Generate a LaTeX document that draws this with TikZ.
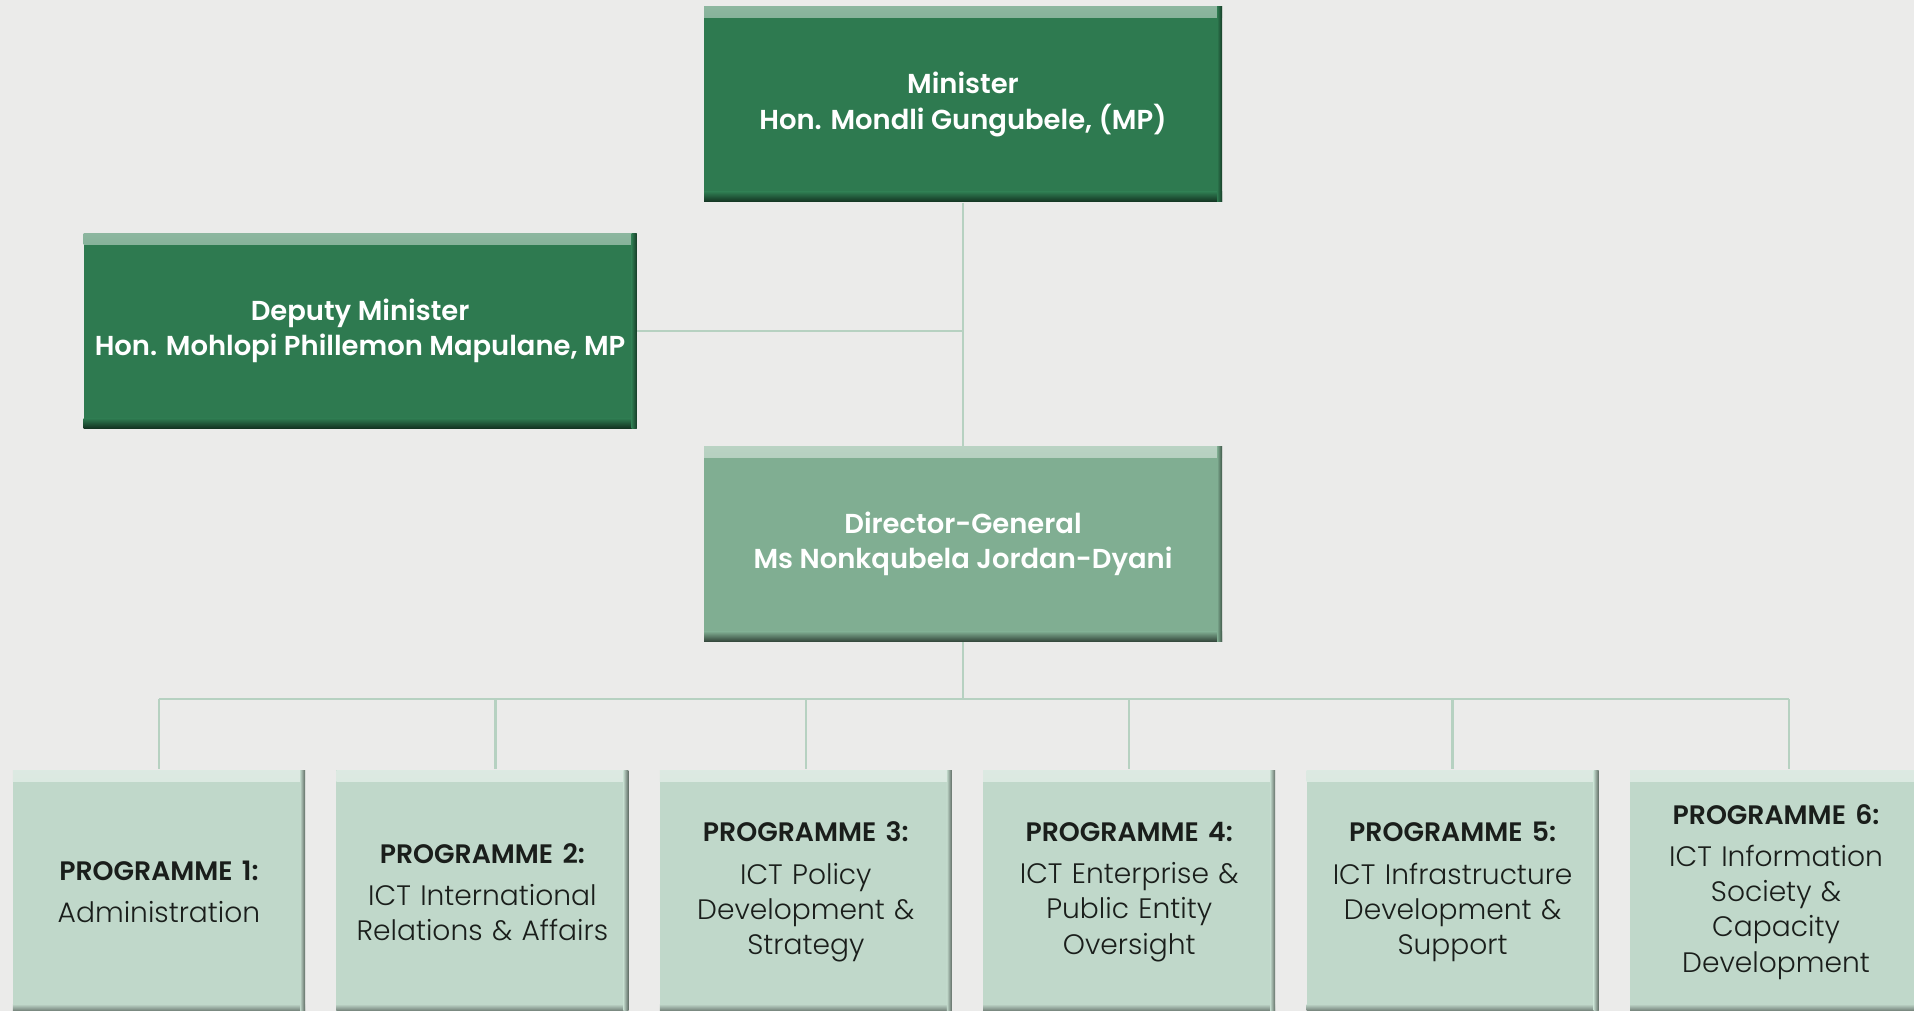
\documentclass[tikz,border=0pt]{standalone}
\usepackage{fontspec}
\setmainfont{Poppins}[BoldFont={Poppins SemiBold}]
\newfontfamily\lightfont{Poppins Light}
\usetikzlibrary{positioning}

\definecolor{paper}{HTML}{EBEBEA}
\definecolor{darkgreen}{HTML}{2E7A50}
\definecolor{midgreen}{HTML}{80AE92}
\definecolor{palegreen}{HTML}{C0D8CA}
\definecolor{linkgreen}{HTML}{B6D1C1}
\definecolor{progtext}{HTML}{1A1E1B}

\newcommand{\progtitle}[1]{{\bfseries\rmfamily\fontsize{7.6}{10}\selectfont #1}\\[2pt]}

\tikzset{
  bevel/.style={path picture={
      \shade[top color=#1!55!white, bottom color=#1]
        (path picture bounding box.north west) rectangle ([yshift=-0.11cm]path picture bounding box.north east);
      \shade[top color=#1, bottom color=#1!40!black]
        ([yshift=0.10cm]path picture bounding box.south west) rectangle (path picture bounding box.south east);
      \shade[left color=#1, right color=#1!50!black]
        ([xshift=-0.05cm]path picture bounding box.south east) rectangle (path picture bounding box.north east);
    }},
  office/.style={rectangle, fill=#1, bevel=#1, text=white, inner sep=0pt,
    minimum width=5.18cm, minimum height=1.95cm, align=center,
    font=\fontsize{7.8}{10}\selectfont\bfseries},
  prog/.style={rectangle, fill=palegreen, bevel=palegreen, text=progtext, inner sep=0pt,
    minimum width=2.92cm, minimum height=2.44cm, text width=2.8cm, align=center,
    font=\fontsize{8}{10}\selectfont\lightfont},
  link/.style={draw=linkgreen, line width=0.7pt},
}

\begin{document}
\begin{tikzpicture}
  \fill[paper] (0,0) rectangle (19.14,-10.11);
  \useasboundingbox (0,0) rectangle (19.14,-10.11);

  \node[office=darkgreen] (minister) at (9.63,-1.045) {Minister\\Hon. Mondli Gungubele, (MP)};
  \node[office=darkgreen,minimum width=5.53cm] (deputy) [below left=0.30cm and 0.66cm of minister]
        {Deputy Minister\\Hon. Mohlopi Phillemon Mapulane, MP};
  \node[office=midgreen] (dg) [below=2.43cm of minister] {Director-General\\Ms Nonkqubela Jordan-Dyani};

  \node[prog] (p1) at (1.59,-8.92) {\progtitle{PROGRAMME 1:}Administration};
  \node[prog] (p2) [right=0.30cm of p1] {\progtitle{PROGRAMME 2:}ICT International\\Relations \& Affairs};
  \node[prog] (p3) [right=0.30cm of p2] {\progtitle{PROGRAMME 3:}ICT Policy\\Development \&\\Strategy};
  \node[prog] (p4) [right=0.30cm of p3] {\progtitle{PROGRAMME 4:}ICT Enterprise \&\\Public Entity\\Oversight};
  \node[prog] (p5) [right=0.30cm of p4] {\progtitle{PROGRAMME 5:}ICT Infrastructure\\Development \&\\Support};
  \node[prog] (p6) [right=0.30cm of p5] {\progtitle{PROGRAMME 6:}ICT Information\\Society \&\\Capacity\\Development};

  % reporting lines
  \draw[link] (minister) -- (dg);
  \draw[link] (deputy) -- (deputy -| minister);
  \coordinate[below=0.57cm of dg.south] (bus);
  \draw[link] (dg) -- (bus);
  \draw[link] (p1.north |- bus) -- ([xshift=0.13cm]p6.north |- bus);
  \foreach \i/\dx in {1/0,2/0.13,3/0,4/0,5/0,6/0.13}
    \draw[link] ([xshift=\dx cm]p\i.north |- bus) -- ([xshift=\dx cm]p\i.north);
\end{tikzpicture}
\end{document}
